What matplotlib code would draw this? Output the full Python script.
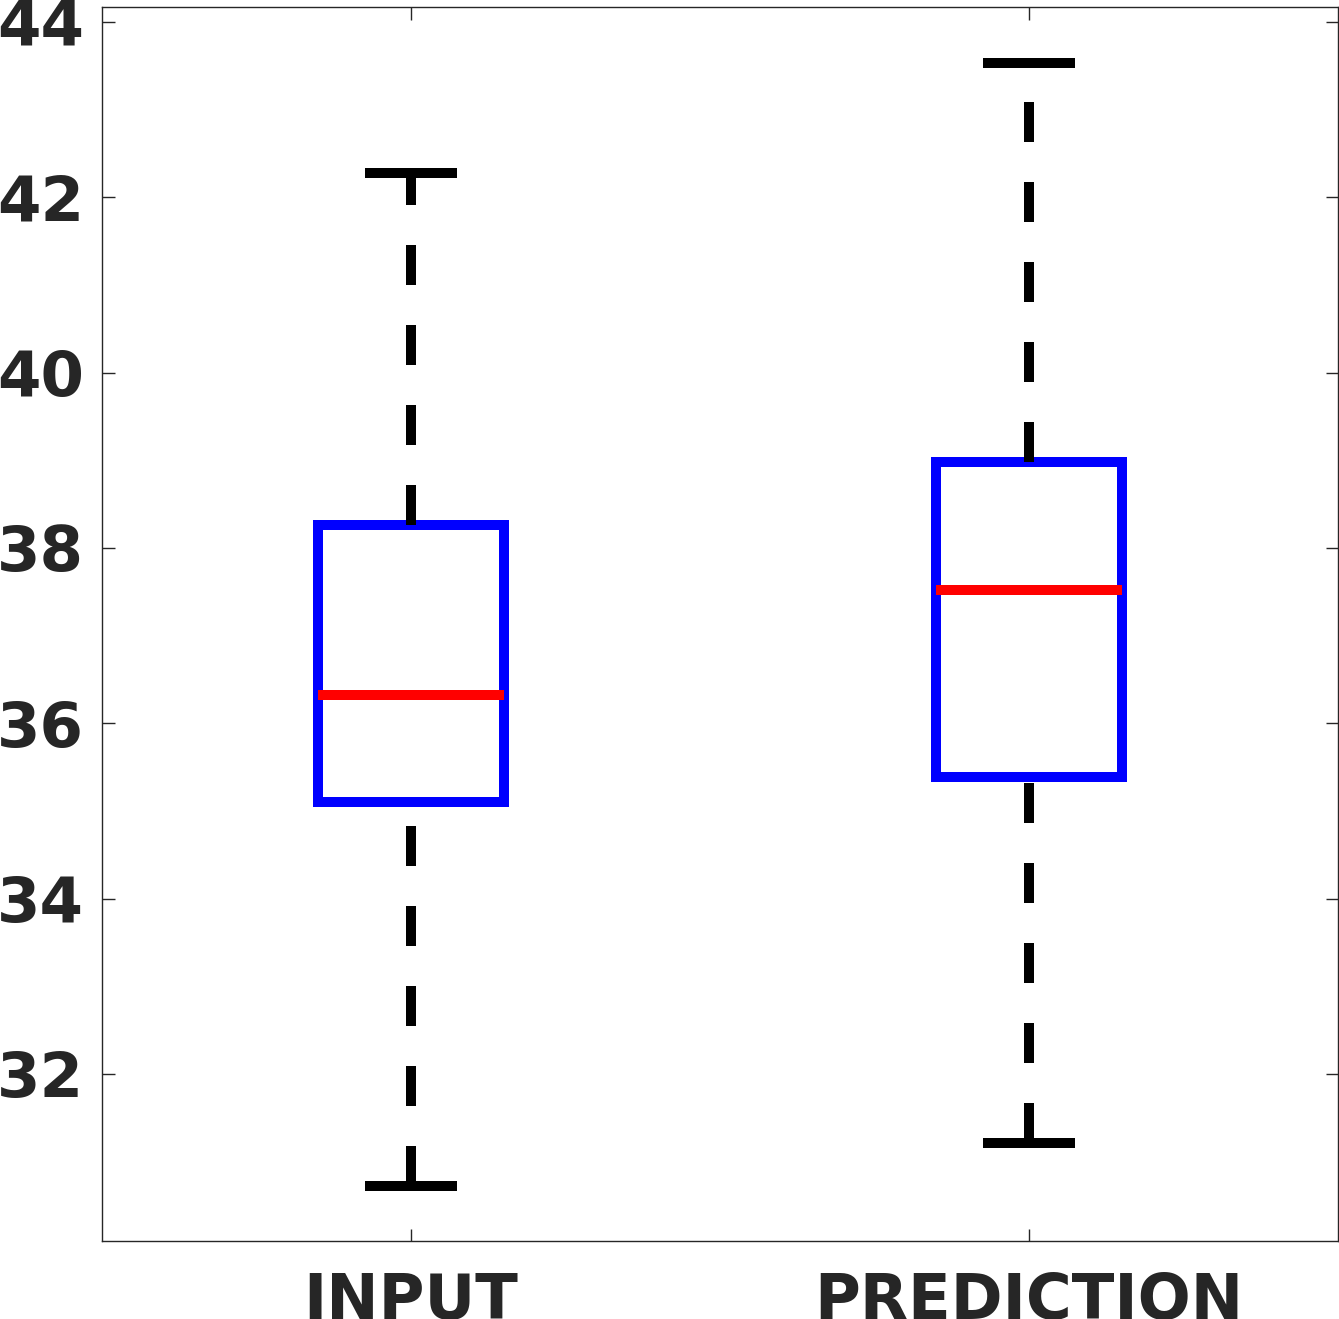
import matplotlib
matplotlib.use("Agg")
import matplotlib.pyplot as plt

# box statistics
labels = ["INPUT", "PREDICTION"]
whislo = [30.72, 31.21]
q1 = [35.10, 35.39]
med = [36.32, 37.52]
q3 = [38.26, 38.98]
whishi = [42.28, 43.53]

yticks = [32, 34, 36, 38, 40, 42, 44]

stats = []
for i in range(len(labels)):
    stats.append(dict(label=labels[i], whislo=whislo[i], q1=q1[i], med=med[i],
                      q3=q3[i], whishi=whishi[i], fliers=[]))

fig = plt.figure(figsize=(13.39, 13.19), dpi=100)
ax = fig.add_axes([102 / 1339, 1 - 1241 / 1319, 1236 / 1339, 1234 / 1319])

lw = 7.2
bp = ax.bxp(stats, positions=[1, 2], widths=0.3, capwidths=0.15, showfliers=False,
            boxprops=dict(color="#0000ff", linewidth=lw, solid_joinstyle="miter"),
            medianprops=dict(color="#ff0000", linewidth=lw, solid_capstyle="butt"),
            whiskerprops=dict(color="black", linewidth=lw, linestyle=(0, (4, 4)),
                              dash_capstyle="butt"),
            capprops=dict(color="black", linewidth=lw, solid_capstyle="butt"))

# lower whiskers are dashed starting from the cap end
for k, w in enumerate(bp["whiskers"]):
    if k % 2 == 0:
        w.set_ydata(w.get_ydata()[::-1])

ax.set_xlim(0.5, 2.5)
ax.set_ylim(30.095, 44.17)
ax.set_yticks(yticks)
ax.set_yticklabels([str(t) for t in yticks])
ax.set_xticks([1, 2])
ax.set_xticklabels(labels)

ax.tick_params(direction="in", length=9, width=1, top=True, right=True,
               labelsize=45, labelcolor="#262626", color="#262626")
ax.tick_params(axis="y", pad=13)
ax.tick_params(axis="x", pad=22)
for lab in ax.get_xticklabels() + ax.get_yticklabels():
    lab.set_fontweight("bold")
for sp in ax.spines.values():
    sp.set_linewidth(1)
    sp.set_color("#262626")

fig.savefig("out.png", dpi=100)
